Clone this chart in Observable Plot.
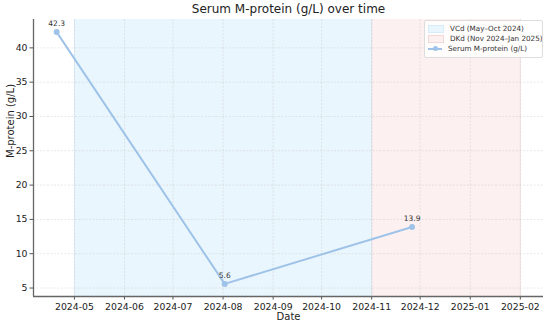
<!DOCTYPE html>
<html>
<head>
<meta charset="utf-8">
<script src="https://cdn.jsdelivr.net/npm/d3@7"></script>
<script src="https://cdn.jsdelivr.net/npm/@observablehq/plot@0.6"></script>
<style>
  html, body { margin: 0; padding: 0; background: #fff; }
  #wrap { position: relative; width: 550px; height: 325px; font-family: "DejaVu Sans", sans-serif; }
  #legend { position: absolute; left: 424px; top: 20px; width: 117px; padding: 3px 0 3px 0;
    border: 1px solid #ddd; border-radius: 2px; background: rgba(255,255,255,0.8);
    font-size: 7.2px; color: #333; line-height: 10px; white-space: nowrap; overflow: hidden; }
  .row { display: flex; align-items: center; height: 10px; white-space: nowrap; }
  .sw { flex: none; width: 14px; height: 5.5px; margin: 0 6px 0 3px; }
  .ln { flex: none; width: 14px; height: 1.8px; margin: 0 6px 0 3px; position: relative; }
  .ln::after { content: ""; position: absolute; left: 4.5px; top: -1.8px; width: 5px; height: 5px; border-radius: 50%; background: inherit; }
</style>
</head>
<body>
<div id="wrap"></div>
<script>
const dates = ["2024-04-20", "2024-08-02", "2024-11-26"];
const values = [42.3, 5.6, 13.9];
const valueLabels = ["42.3", "5.6", "13.9"];
const spanNames = ["VCd (May–Oct 2024)", "DKd (Nov 2024–Jan 2025)"];
const spanStarts = ["2024-05-01", "2024-11-01"];
const spanEnds = ["2024-11-01", "2025-02-01"];
const spanColors = ["#eaf6fd", "#fdf0f0"];
const spanEdges = ["#d6ecf8", "#f3d8d8"];
const yTicks = [5, 10, 15, 20, 25, 30, 35, 40];
const lineColor = "#9fc3e8";

const data = dates.map((d, i) => ({date: new Date(d), value: values[i], label: valueLabels[i]}));
const spans = spanStarts.map((s, i) => ({start: new Date(s), end: new Date(spanEnds[i]), fill: spanColors[i], edge: spanEdges[i], name: spanNames[i]}));

// matplotlib-style 5% margins
const xmin = d3.min([...data.map(d => d.date), ...spans.map(s => s.start)]);
const xmax = d3.max([...data.map(d => d.date), ...spans.map(s => s.end)]);
const xpad = (xmax - xmin) * 0.05;
const xDomain = [new Date(+xmin - xpad), new Date(+xmax + xpad)];
const ymin = d3.min(values), ymax = d3.max(values);
const ypad = (ymax - ymin) * 0.05;
const yDomain = [ymin - ypad, ymax + ypad];
const monthTicks = d3.utcMonth.range(new Date("2024-05-01"), new Date("2025-02-02"));

const plot = Plot.plot({
  width: 550,
  height: 325,
  marginLeft: 33,
  marginRight: 7,
  marginTop: 19,
  marginBottom: 29,
  style: {fontFamily: "DejaVu Sans, sans-serif", background: "#fff"},
  x: {type: "utc", domain: xDomain},
  y: {domain: yDomain},
  marks: [
    Plot.rect([spans[0]], {x1: "start", x2: "end", fill: spans[0].fill}),
    Plot.rect([spans[1]], {x1: "start", x2: "end", fill: spans[1].fill}),
    Plot.ruleX(spans, {x: "start", stroke: "edge", strokeWidth: 0.8}),
    Plot.ruleX(spans, {x: "end", stroke: "edge", strokeWidth: 0.8}),
    Plot.gridX(monthTicks, {stroke: "#c8c8c8", strokeOpacity: 0.7, strokeDasharray: "2,1.5", strokeWidth: 0.6}),
    Plot.gridY(yTicks, {stroke: "#c8c8c8", strokeOpacity: 0.7, strokeDasharray: "2,1.5", strokeWidth: 0.6}),
    Plot.axisX(monthTicks, {tickFormat: d3.utcFormat("%Y-%m"), tickSize: 3.5, tickPadding: 3, fontSize: 9.3, color: "#222", stroke: "#555", label: null}),
    Plot.axisY(yTicks, {tickSize: 3.5, tickPadding: 2.5, fontSize: 9.3, color: "#222", stroke: "#555", label: null}),
    Plot.ruleX([xDomain[0]], {stroke: "#666", strokeWidth: 1.3}),
    Plot.ruleY([yDomain[0]], {stroke: "#666", strokeWidth: 1.3}),
    Plot.line(data, {x: "date", y: "value", stroke: lineColor, strokeWidth: 2}),
    Plot.dot(data, {x: "date", y: "value", fill: lineColor, r: 3}),
    Plot.text(data, {x: "date", y: "value", text: "label", dy: -8, fontSize: 7.5, fill: "#333"}),
    Plot.text(["Serum M-protein (g/L) over time"], {frameAnchor: "top", lineAnchor: "middle", dy: -10, fontSize: 12, fill: "#222"}),
    Plot.text(["Date"], {frameAnchor: "bottom", lineAnchor: "middle", dy: 20, fontSize: 10, fill: "#222"}),
    Plot.text(["M-protein (g/L)"], {frameAnchor: "left", dx: -23, rotate: -90, fontSize: 10, fill: "#222"})
  ]
});
const wrap = document.getElementById("wrap");
wrap.appendChild(plot);

const legend = document.createElement("div");
legend.id = "legend";
spans.forEach(s => {
  const row = document.createElement("div");
  row.className = "row";
  row.innerHTML = `<span class="sw" style="background:${s.fill};border:0.5px solid ${s.edge}"></span><span>${s.name}</span>`;
  legend.appendChild(row);
});
const row = document.createElement("div");
row.className = "row";
row.innerHTML = `<span class="ln" style="background:${lineColor}"></span><span>Serum M-protein (g/L)</span>`;
legend.appendChild(row);
wrap.appendChild(legend);
</script>
</body>
</html>
